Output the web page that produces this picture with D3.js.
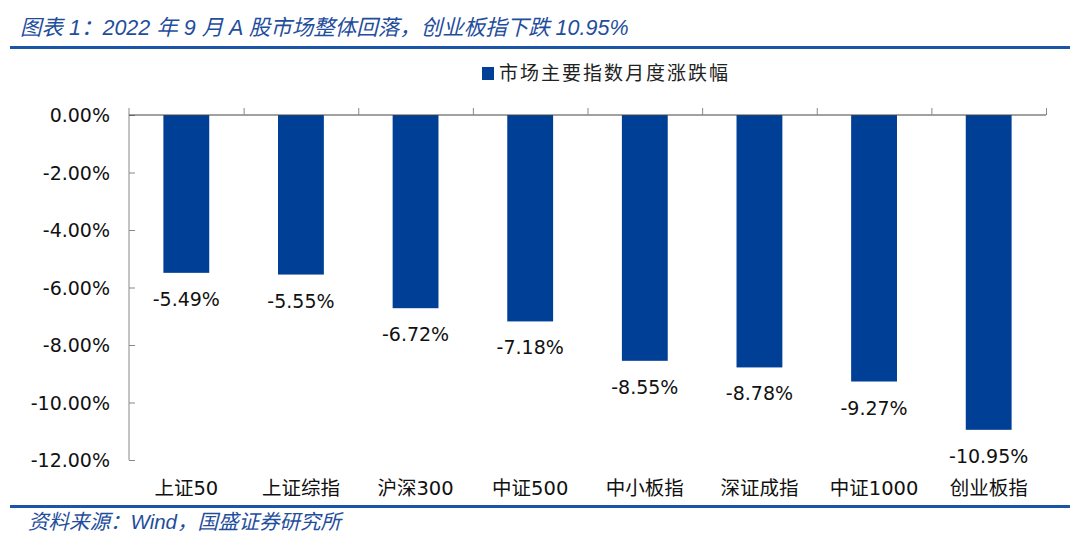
<!DOCTYPE html>
<html><head><meta charset="utf-8">
<script src="https://cdn.jsdelivr.net/npm/d3@7/dist/d3.min.js"></script>
<style>
body{margin:0;background:#fff;}
svg{display:block;}
</style></head>
<body>
<svg id="c" width="1080" height="547"></svg>
<script>
const categories = ["上证50","上证综指","沪深300","中证500","中小板指","深证成指","中证1000","创业板指"];
const values = [-5.49,-5.55,-6.72,-7.18,-8.55,-8.78,-9.27,-10.95];
const yTicks = [0,-2,-4,-6,-8,-10,-12];
const seriesName = "市场主要指数月度涨跌幅";
const titleText = "图表 1：2022 年 9 月 A 股市场整体回落，创业板指下跌 10.95%";
const sourceText = "资料来源：Wind，国盛证券研究所";

const svg = d3.select("#c");
const numFont = "Tahoma, 'DejaVu Sans', Verdana, sans-serif";
const catFont = "'DejaVu Sans', 'Noto Sans CJK SC', sans-serif";
const cjkFont = "'Noto Sans CJK SC', sans-serif";
const blue = "#003f96";
const hdr = "#1a55a8";
const fmt = d => d.toFixed(2) + "%";

// title
svg.append("text").attr("x",20).attr("y",35)
  .attr("font-family","'Liberation Sans', 'Noto Sans CJK SC', sans-serif")
  .attr("font-style","italic").attr("font-size",21.5).attr("fill","#1f4e9c")
  .text(titleText);
svg.append("rect").attr("x",10).attr("y",46).attr("width",1060).attr("height",3).attr("fill",hdr);

// footer
svg.append("rect").attr("x",10).attr("y",505).attr("width",1060).attr("height",3).attr("fill",hdr);
svg.append("text").attr("x",28).attr("y",529)
  .attr("font-family","'Liberation Sans', 'Noto Sans CJK SC', sans-serif")
  .attr("font-style","italic").attr("font-size",20.5).attr("fill","#1f4e9c")
  .text(sourceText);

// legend
svg.append("rect").attr("x",482).attr("y",67).attr("width",12).attr("height",13).attr("fill",blue);
svg.append("text").attr("x",499).attr("y",80).attr("font-family",cjkFont)
  .attr("font-size",19).attr("fill","#222").attr("letter-spacing",2).text(seriesName);

const L=129, R=1046, T=115, B=460;
const x = d3.scaleBand().domain(categories).range([L,R]).paddingInner(0.6).paddingOuter(0.3);
const y = d3.scaleLinear().domain([0,-12]).range([T,B]);

const g = svg.append("g");
// bars
g.selectAll("rect.bar").data(values).join("rect").attr("class","bar")
  .attr("x",(d,i)=>x(categories[i])).attr("width",x.bandwidth())
  .attr("y",y(0)).attr("height",d=>y(d)-y(0)).attr("fill",blue);

// y axis
const yAxis = d3.axisRight(y).tickValues(yTicks).tickSize(6).tickFormat("");
const ya = svg.append("g").attr("transform",`translate(${L},0)`).call(yAxis);
ya.select(".domain").attr("stroke","#888").attr("d",`M0,${T-7}V${B}`);
ya.selectAll(".tick line").attr("stroke","#888");
svg.selectAll("text.ylab").data(yTicks).join("text").attr("class","ylab")
  .attr("x",110).attr("y",d=>y(d)+7).attr("text-anchor","end")
  .attr("font-family",numFont).attr("font-size",19).attr("fill","#111")
  .text(fmt);

// zero line with upward ticks at category boundaries
const xAxis = d3.axisTop(d3.scaleLinear().domain([0,categories.length]).range([L,R]))
  .tickValues(d3.range(1,categories.length+1)).tickSize(7).tickFormat("");
const xa = svg.append("g").attr("transform",`translate(0,${y(0)})`).call(xAxis);
xa.select(".domain").attr("stroke","#444").attr("d",`M${L},0H${R}`);
xa.selectAll(".tick line").attr("stroke","#888");

// value labels
svg.selectAll("text.val").data(values).join("text").attr("class","val")
  .attr("x",(d,i)=>x(categories[i])+x.bandwidth()/2).attr("y",d=>y(d)+33)
  .attr("text-anchor","middle").attr("font-family",numFont).attr("font-size",19).attr("fill","#111")
  .text(fmt);

// category labels
svg.selectAll("text.cat").data(categories).join("text").attr("class","cat")
  .attr("x",d=>x(d)+x.bandwidth()/2).attr("y",495)
  .attr("text-anchor","middle").attr("font-family",catFont).attr("font-size",19.5).attr("fill","#111")
  .text(d=>d);
</script>
</body></html>
